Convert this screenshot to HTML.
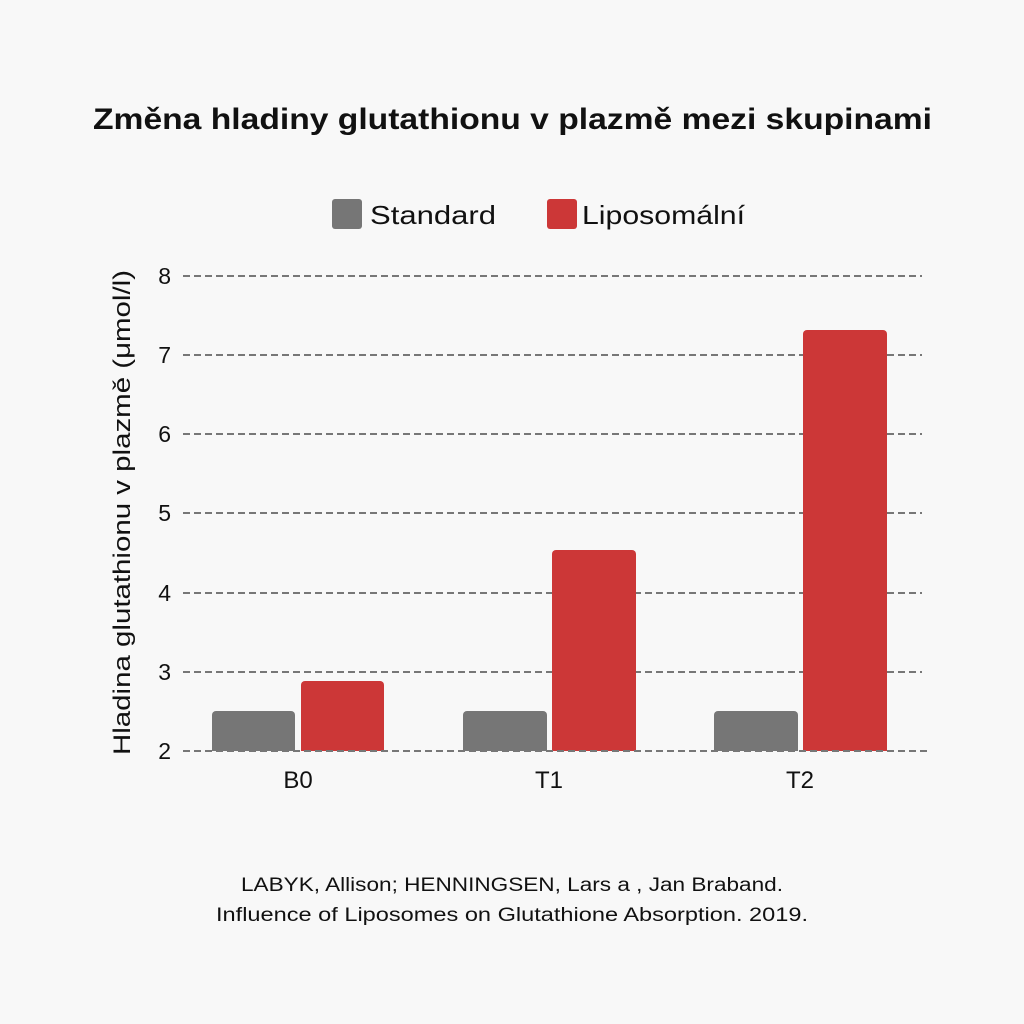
<!DOCTYPE html>
<html><head><meta charset="utf-8"><style>
html,body{margin:0;padding:0;background:#f8f8f8;}
</style></head><body>
<svg width="1024" height="1024" xmlns="http://www.w3.org/2000/svg" style="display:block">
<rect width="1024" height="1024" fill="#f8f8f8"/>
<g font-family="Liberation Sans, sans-serif" fill="#111">
<text x="93" y="129" font-size="30" font-weight="bold" textLength="839" lengthAdjust="spacingAndGlyphs">Změna hladiny glutathionu v plazmě mezi skupinami</text>
<rect x="332" y="199" width="30" height="30" rx="3" fill="#767676"/>
<text x="370" y="224" font-size="26" textLength="126" lengthAdjust="spacingAndGlyphs">Standard</text>
<rect x="547" y="199" width="30" height="30" rx="3" fill="#cc3737"/>
<text x="582" y="224" font-size="26" textLength="163" lengthAdjust="spacingAndGlyphs">Liposomální</text>
<g stroke="#777" stroke-width="2" stroke-dasharray="7,4">
<line x1="183" x2="922" y1="276" y2="276"/>
<line x1="183" x2="922" y1="355" y2="355"/>
<line x1="183" x2="922" y1="434" y2="434"/>
<line x1="183" x2="922" y1="513" y2="513"/>
<line x1="183" x2="922" y1="593" y2="593"/>
<line x1="183" x2="922" y1="672" y2="672"/>
</g>
<g font-size="23" text-anchor="end">
<text x="171" y="284">8</text><text x="171" y="363">7</text><text x="171" y="442">6</text>
<text x="171" y="521">5</text><text x="171" y="601">4</text><text x="171" y="680">3</text><text x="171" y="759">2</text>
</g>
<g fill="#767676">
<path d="M212 751V715a4 4 0 0 1 4-4h75a4 4 0 0 1 4 4V751z"/>
<path d="M463 751V715a4 4 0 0 1 4-4h76a4 4 0 0 1 4 4V751z"/>
<path d="M714 751V715a4 4 0 0 1 4-4h76a4 4 0 0 1 4 4V751z"/>
</g>
<g fill="#cc3737">
<path d="M301 751V685a4 4 0 0 1 4-4h75a4 4 0 0 1 4 4V751z"/>
<path d="M552 751V554a4 4 0 0 1 4-4h76a4 4 0 0 1 4 4V751z"/>
<path d="M803 751V334a4 4 0 0 1 4-4h76a4 4 0 0 1 4 4V751z"/>
</g>
<line x1="183" x2="928" y1="751" y2="751" stroke="#777" stroke-width="2" stroke-dasharray="7,4"/>
<g font-size="24" text-anchor="middle">
<text x="298" y="788">B0</text><text x="549" y="788">T1</text><text x="800" y="788">T2</text>
</g>
<text transform="translate(130,755) rotate(-90)" font-size="24" textLength="485" lengthAdjust="spacingAndGlyphs">Hladina glutathionu v plazmě (μmol/l)</text>
<g font-size="19">
<text x="241" y="891" textLength="542" lengthAdjust="spacingAndGlyphs">LABYK, Allison; HENNINGSEN, Lars a , Jan Braband.</text>
<text x="216" y="921" textLength="592" lengthAdjust="spacingAndGlyphs">Influence of Liposomes on Glutathione Absorption. 2019.</text>
</g>
</g>
</svg>
</body></html>
